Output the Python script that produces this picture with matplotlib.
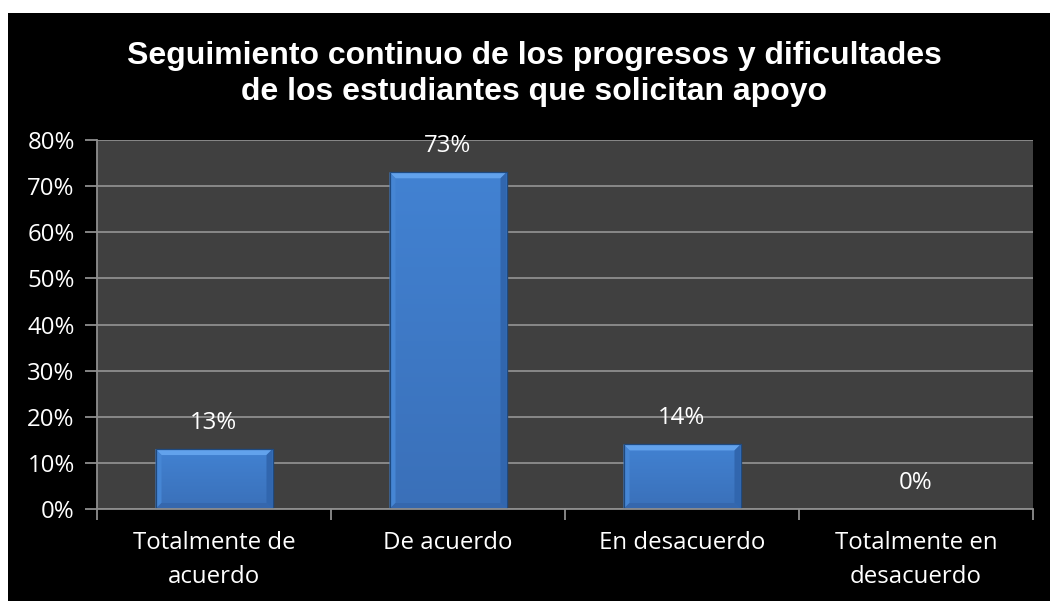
import matplotlib
matplotlib.use("Agg")
import matplotlib.pyplot as plt
import numpy as np
from matplotlib.patches import Rectangle, Polygon
from matplotlib.colors import LinearSegmentedColormap

title = "Seguimiento continuo de los progresos y dificultades\nde los estudiantes que solicitan apoyo"
categories = ["Totalmente de\nacuerdo", "De acuerdo", "En desacuerdo", "Totalmente en\ndesacuerdo"]
values = [13, 73, 14, 0]
labels = ["13%", "73%", "14%", "0%"]
yticks = [0, 10, 20, 30, 40, 50, 60, 70, 80]

W, H = 1050, 601
fig = plt.figure(figsize=(W / 100, H / 100), dpi=100, facecolor="white")
# black chart area
fig.patches.append(Rectangle((8 / W, 0), 1 - 8 / W, 1 - 13 / H, transform=fig.transFigure,
                             facecolor="black", edgecolor="none", zorder=-10))

ax_l, ax_r, ax_t, ax_b = 97, 1033, 140, 509
ax = fig.add_axes([ax_l / W, 1 - ax_b / H, (ax_r - ax_l) / W, (ax_b - ax_t) / H])
ax.set_zorder(5)
ax.set_facecolor("#404040")
xmin, xmax, ymin, ymax = -0.5, len(categories) - 0.5, 0, 80
ax.set_xlim(xmin, xmax)
ax.set_ylim(ymin, ymax)

grid_c = "#8e8e8e"
ax.set_yticks(yticks)
ax.set_yticklabels([f"{v}%" for v in yticks])
ax.yaxis.grid(True, color=grid_c, linewidth=1.3)
ax.set_axisbelow(True)
for s in ["top", "right"]:
    ax.spines[s].set_visible(False)
for s in ["left", "bottom"]:
    ax.spines[s].set_color(grid_c)
    ax.spines[s].set_linewidth(1.3)

ax.set_xticks(np.arange(len(categories)))
ax.set_xticklabels(categories, linespacing=1.52)
ax.set_xticks(np.arange(len(categories) + 1) - 0.5, minor=True)
ax.tick_params(axis="x", which="major", length=0, pad=16)
ax.tick_params(axis="x", which="minor", length=8, color=grid_c, width=1.3)
ax.tick_params(axis="y", length=9, color=grid_c, width=1.3, pad=7)
for lab in ax.get_xticklabels() + ax.get_yticklabels():
    lab.set_color("white")
    lab.set_fontfamily("Open Sans")
    lab.set_fontsize(17.3)

x = np.arange(len(categories))
bars = ax.bar(x, values, width=0.5, color="#3d7cc9", edgecolor="#1f4a80", linewidth=0.8, zorder=2)

# bevel sizes (pixels -> data units)
px_x = (xmax - xmin) / (ax_r - ax_l)
px_y = (ymax - ymin) / (ax_b - ax_t)
bx, by = 6 * px_x, 6 * px_y

body = LinearSegmentedColormap.from_list("body", ["#3a70b9", "#4282d2"])
for b in bars:
    h = b.get_height()
    if h <= 0:
        continue
    x0, w = b.get_x(), b.get_width()
    x1 = x0 + w
    im = ax.imshow(np.linspace(0, 1, 128).reshape(-1, 1), extent=[x0, x1, 0, h], aspect="auto",
                   cmap=body, origin="lower", zorder=2.1)
    im.set_clip_path(b)
    ax.add_patch(Polygon([(x0, h), (x1, h), (x1 - bx, h - by), (x0 + bx, h - by)],
                         closed=True, facecolor="#62a2ec", edgecolor="none", zorder=2.2))
    ax.add_patch(Polygon([(x0, h), (x0 + bx, h - by), (x0 + bx, by), (x0, 0)],
                         closed=True, facecolor="#4686d4", edgecolor="none", zorder=2.2))
    ax.add_patch(Polygon([(x1, h), (x1 - bx, h - by), (x1 - bx, by), (x1, 0)],
                         closed=True, facecolor="#3166ae", edgecolor="none", zorder=2.2))
    ax.add_patch(Polygon([(x0, 0), (x1, 0), (x1 - bx, by), (x0 + bx, by)],
                         closed=True, facecolor="#3567ad", edgecolor="none", zorder=2.2))
    ax.add_patch(Rectangle((x0, 0), w, h, facecolor="none", edgecolor="#1f4a80", linewidth=0.9, zorder=2.3))
ax.set_xlim(xmin, xmax)
ax.set_ylim(ymin, ymax)

for xi, v, lab in zip(x, values, labels):
    ax.annotate(lab, (xi, v), xytext=(0, 19), textcoords="offset points", ha="center", va="center",
                color="white", fontsize=17.3, fontfamily="Open Sans", zorder=3)

fig.text(534 / W, 1 - 74 / H, title, ha="center", va="center", color="white", fontsize=23,
         fontweight="bold", fontfamily="Liberation Sans", linespacing=1.25)

fig.savefig("out.png", dpi=100, facecolor=fig.get_facecolor())
